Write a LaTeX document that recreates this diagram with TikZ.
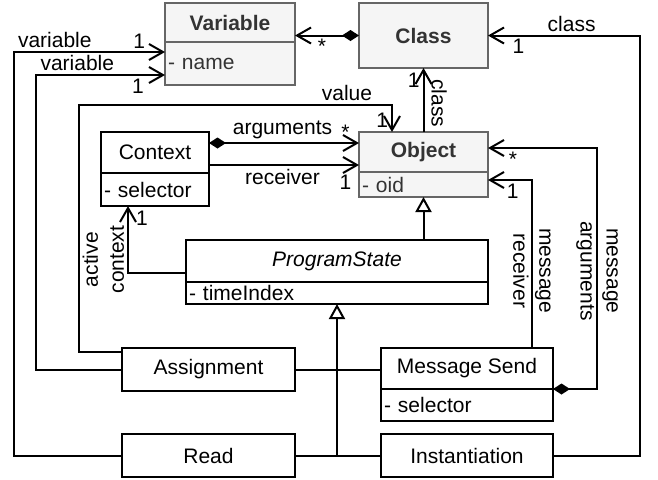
\documentclass[tikz,border=0pt]{standalone}
\usepackage{fontspec}
\setmainfont{Liberation Sans}
\usetikzlibrary{arrows.meta,positioning,calc}

\definecolor{boxgray}{HTML}{F5F5F5}
\definecolor{linegray}{HTML}{666666}
\definecolor{textgray}{HTML}{333333}

\begin{document}
\begin{tikzpicture}[
		x=0.5pt,
		y=-0.5pt,
		line width=1pt,
		>={Straight Barb[length=7pt,width=8pt]},
		every node/.style={
			font=\fontsize{10.5}{13}\selectfont,
		},
		classbox/.style={
			draw,
			outer sep=0pt,
			inner sep=0pt,
			minimum width=#1,
		},
		entity/.style={
			classbox=#1,
			fill=boxgray,
			draw=linegray,
			text=textgray,
			font=\fontsize{10.5}{13}\selectfont\bfseries,
		},
		attrbox/.style={
			draw,
			outer sep=0pt,
			inner xsep=1.5pt,
			inner ysep=0pt,
			text width=#1,
			align=left,
		},
		grayattr/.style={
			fill=boxgray,
			draw=linegray,
			text=textgray,
		},
		lbl/.style={
			inner sep=1.5pt,
		},
		association/.style={->},
		composition/.style={{Diamond[length=8.5pt,width=5.5pt]}->},
		generalization/.style={-{Triangle[open,length=7.5pt,width=8pt,fill=white]}},
	]
		\useasboundingbox (0,0) rectangle (658,479);

		\node[entity=65pt, minimum height=19.5pt] (variable) at (230,22.5) {Variable};
		\node[attrbox=62pt, minimum height=21.5pt, grayattr, below=0pt of variable] (varattr) {- name};
		\node[entity=64.5pt, minimum height=32.5pt] (class) at (423.5,35.5) {Class};
		\node[entity=64.5pt, minimum height=20pt] (object) at (423.5,152) {Object};
		\node[attrbox=61.5pt, minimum height=12.5pt, grayattr, below=0pt of object] (objattr) {- oid};
		\node[classbox=54pt, minimum height=20.5pt] (context) at (155,152.5) {Context};
		\node[attrbox=51pt, minimum height=16.5pt, below=0pt of context] (ctxattr) {- selector};
		\node[classbox=151pt, minimum height=21pt] (state) at (337,261) {\itshape ProgramState};
		\node[attrbox=148pt, minimum height=11pt, below=0pt of state] (stateattr) {- timeIndex};
		\node[classbox=86.5pt, minimum height=21.5pt] (assignment) at (208.5,369.5) {Assignment};
		\node[classbox=86.5pt, minimum height=21.5pt] (read) at (208.5,455.5) {Read};
		\node[classbox=86pt, minimum height=20.5pt] (send) at (467,368.5) {Message Send};
		\node[attrbox=83pt, minimum height=16pt, below=0pt of send] (sendattr) {- selector};
		\node[classbox=86pt, minimum height=21.5pt] (instantiation) at (467,455.5) {Instantiation};

		\coordinate (varin1) at ($(varattr.west)+(0,-11.5)$);
		\coordinate (varin2) at ($(varattr.west)+(0,11.5)$);
		\coordinate (argsout) at ($(context.east)+(0,-9.5)$);
		\coordinate (recvout) at ($(context.east)+(0,12.5)$);
		\coordinate (recvturn) at (532,180);
		\coordinate (argsturn) at (597,148);

		\draw[composition] (class.west) -- (class.west -| variable.east)
			node[lbl, below, pos=0.58] {*};
		\draw[association] (instantiation.east) -| (640,35.5) -- (class.east)
			node[lbl, above, pos=0.45] {class}
			node[lbl, below, pos=0.8] {1};
		\draw[association] (object.north) -- (class.south)
			node[lbl, left, pos=0.81] {1}
			node[lbl, rotate=-90, anchor=south, inner sep=3.5pt, pos=0.45] {class};

		\draw[association] (read.west) -| (14,52) -- (varin1)
			node[lbl, above, pos=0.27] {variable}
			node[lbl, above, pos=0.83] {1};
		\draw[association] (assignment.west) -| (36,75) -- (varin2)
			node[lbl, above, pos=0.32] {variable}
			node[lbl, below, pos=0.79] {1};
		\draw[association] ($(assignment.north west)+(0,4)$) -| (79,105) -| ($(object.north)+(-31.5,0)$)
			node[lbl, above, pos=0.428] {value}
			node[lbl, left, pos=0.78] {1};

		\draw[composition] (argsout) -- (argsout -| object.west)
			node[lbl, above, pos=0.49] {arguments}
			node[lbl, above, pos=0.91] {*};
		\draw[association] (recvout) -- (recvout -| object.west)
			node[lbl, below, pos=0.49] {receiver}
			node[lbl, below, pos=0.91, yshift=-3pt] {1};
		\draw[association] ($(state.west)+(0,12)$) -| ($(ctxattr.south)+(-27,0)$)
			node[lbl, rotate=90, anchor=south, align=center, pos=0.6] {active\\context}
			node[lbl, right, pos=0.91, xshift=2pt] {1};

		\draw[generalization] (objattr.south |- state.north) -- (objattr.south);
		\draw[generalization] (stateattr.south |- read.east) -- (stateattr.south);
		\draw (assignment.east) -- (assignment.east -| send.west);
		\draw (read.east) -- (instantiation.west);

		\draw[association] (send.north -| recvturn) |- (objattr.east |- recvturn)
			node[lbl, rotate=-90, align=center, pos=0.23] {message\\receiver}
			node[lbl, below, pos=0.72] {1};
		\draw[composition] (send.south east) -| (argsturn)
			node[lbl, rotate=-90, align=center, pos=0.745] {message\\arguments}
			-- (argsturn -| object.east)
			node[lbl, below, pos=0.77] {*};
	\end{tikzpicture}
\end{document}
